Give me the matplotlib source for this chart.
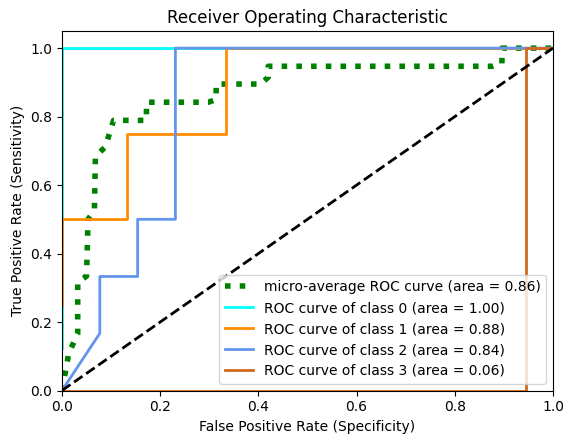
import matplotlib
matplotlib.use("Agg")
import matplotlib.pyplot as plt

# micro-average ROC points (estimated)
micro_fpr = [0.0, 0.014, 0.032, 0.032, 0.050, 0.053, 0.066, 0.068, 0.088, 0.105, 0.172, 0.172,
             0.298, 0.314, 0.314, 0.404, 0.420, 0.420, 0.877, 0.896, 0.896, 1.0]
micro_tpr = [0.0, 0.110, 0.165, 0.316, 0.334, 0.500, 0.526, 0.684, 0.711, 0.789, 0.789, 0.842,
             0.842, 0.850, 0.895, 0.895, 0.915, 0.947, 0.947, 0.955, 1.0, 1.0]
micro_auc = 0.86

class_fpr = [
    [0.0, 0.0, 1.0],
    [0.0, 0.0, 0.133, 0.133, 0.333, 0.333, 1.0],
    [0.0, 0.077, 0.077, 0.154, 0.154, 0.231, 0.231, 1.0],
    [0.0, 0.945, 0.945, 1.0],
]
class_tpr = [
    [0.125, 1.0, 1.0],
    [0.25, 0.5, 0.5, 0.75, 0.75, 1.0, 1.0],
    [0.0, 0.167, 0.333, 0.333, 0.5, 0.5, 1.0, 1.0],
    [0.0, 0.0, 1.0, 1.0],
]
class_auc = [1.00, 0.88, 0.84, 0.06]
class_colors = ['aqua', 'darkorange', 'cornflowerblue', 'chocolate']

fig = plt.figure(figsize=(5.65, 4.37), dpi=100)
ax = fig.add_axes([62/565, 1 - 390.5/437, (553-62)/565, (390.5-31)/437])

ax.plot(micro_fpr, micro_tpr, color='green', linestyle=':', linewidth=4,
        label='micro-average ROC curve (area = {0:0.2f})'.format(micro_auc))
for i, (f, t, a, c) in enumerate(zip(class_fpr, class_tpr, class_auc, class_colors)):
    ax.plot(f, t, color=c, lw=2,
            label='ROC curve of class {0} (area = {1:0.2f})'.format(i, a))
ax.plot([0, 1], [0, 1], 'k--', lw=2)
ax.set_xlim(0.0, 1.0)
ax.set_ylim(0.0, 1.05)
ax.set_xlabel('False Positive Rate (Specificity)')
ax.set_ylabel('True Positive Rate (Sensitivity)')
ax.set_title('Receiver Operating Characteristic')
ax.legend(loc='lower right')
fig.savefig('out.png', dpi=100)
